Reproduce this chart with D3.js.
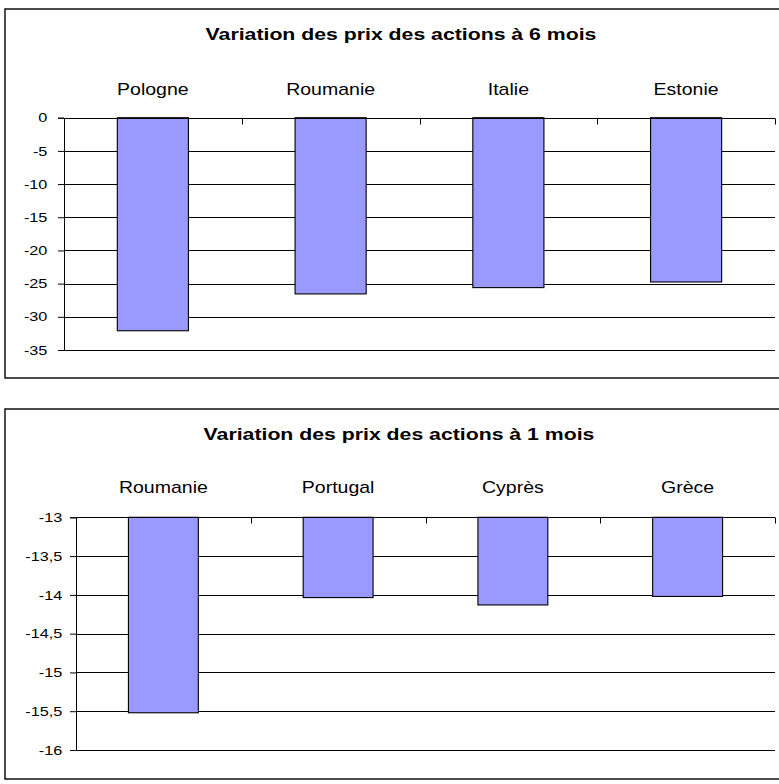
<!DOCTYPE html>
<html>
<head>
<meta charset="utf-8">
<script src="https://cdn.jsdelivr.net/npm/d3@7"></script>
<style>
  html, body { margin: 0; padding: 0; background: #fff; }
  svg { display: block; }
  text { font-family: "Liberation Sans", Arial, sans-serif; fill: #000; }
</style>
</head>
<body>
<svg id="chart" width="779" height="784"></svg>
<script>
// Six-month price changes (%)
const sixMonthTitle = "Variation des prix des actions à 6 mois";
const sixMonthCountries = ["Pologne", "Roumanie", "Italie", "Estonie"];
const sixMonthValues = [-32.1, -26.55, -25.6, -24.75];
const sixMonthTicks = [0, -5, -10, -15, -20, -25, -30, -35];

// One-month price changes (%)
const oneMonthTitle = "Variation des prix des actions à 1 mois";
const oneMonthCountries = ["Roumanie", "Portugal", "Cyprès", "Grèce"];
const oneMonthValues = [-15.52, -14.035, -14.13, -14.02];
const oneMonthTicks = [-13, -13.5, -14, -14.5, -15, -15.5, -16];

const svg = d3.select("#chart");
const frFormat = v => String(v).replace(".", ",");
const STRETCH = 1.25; // wide lettering

function drawPanel(cfg) {
  const g = svg.append("g");

  // outer frame (right edge runs past the page)
  g.append("rect")
    .attr("x", cfg.frame.x).attr("y", cfg.frame.y)
    .attr("width", cfg.frame.w).attr("height", cfg.frame.h)
    .attr("fill", "#fff").attr("stroke", "#000").attr("stroke-width", 1.4);

  g.append("text")
    .attr("transform", `translate(${cfg.titleX},${cfg.titleY}) scale(${STRETCH},1)`)
    .attr("text-anchor", "middle")
    .attr("font-size", 17).attr("font-weight", "bold")
    .text(cfg.title);

  const x = d3.scaleBand()
    .domain(cfg.categories)
    .range([cfg.plot.x0, cfg.plot.x1])
    .paddingInner(0.6).paddingOuter(0.3);

  const y = d3.scaleLinear()
    .domain([cfg.ticks[0], cfg.ticks[cfg.ticks.length - 1]])
    .range([cfg.plot.y0, cfg.plot.y1]);

  // horizontal gridlines
  g.append("g").selectAll("line")
    .data(cfg.ticks.slice(1))
    .join("line")
    .attr("x1", cfg.plot.x0).attr("x2", cfg.plot.x1)
    .attr("y1", d => Math.round(y(d)) + 0.5).attr("y2", d => Math.round(y(d)) + 0.5)
    .attr("stroke", "#000").attr("stroke-width", 1.1);

  // value axis
  const yAxis = d3.axisLeft(y)
    .tickValues(cfg.ticks)
    .tickFormat(frFormat)
    .tickSize(6).tickPadding(cfg.tickPad);
  const ya = g.append("g")
    .attr("transform", `translate(${cfg.plot.x0},0)`)
    .call(yAxis);
  ya.select(".domain").attr("stroke", "#000");
  ya.selectAll(".tick line").attr("stroke", "#000");
  ya.selectAll(".tick text")
    .attr("font-family", "Liberation Sans, Arial, sans-serif")
    .attr("font-size", 13).attr("fill", "#000")
    .attr("transform", `scale(${STRETCH},1)`);

  // bars hanging from the top axis
  g.append("g").selectAll("rect")
    .data(cfg.categories.map((c, i) => ({ c, v: cfg.values[i] })))
    .join("rect")
    .attr("x", d => x(d.c))
    .attr("width", x.bandwidth())
    .attr("y", y(cfg.ticks[0]))
    .attr("height", d => y(d.v) - y(cfg.ticks[0]))
    .attr("fill", "#9999ff")
    .attr("stroke", "#000").attr("stroke-width", 1.1);

  // category axis along the top
  const topY = Math.round(y(cfg.ticks[0])) + 0.5;
  g.append("line")
    .attr("x1", cfg.plot.x0).attr("x2", cfg.plot.x1)
    .attr("y1", topY).attr("y2", topY)
    .attr("stroke", "#000");
  const bounds = d3.range(cfg.categories.length + 1).map(i => cfg.plot.x0 + i * x.step());
  g.append("g").selectAll("line")
    .data(bounds.slice(1))
    .join("line")
    .attr("x1", d => Math.round(d) + 0.5).attr("x2", d => Math.round(d) + 0.5)
    .attr("y1", topY).attr("y2", topY + 6)
    .attr("stroke", "#000");

  g.append("g").selectAll("text")
    .data(cfg.categories)
    .join("text")
    .attr("transform", d => `translate(${x(d) + x.bandwidth() / 2},${cfg.labelY}) scale(1.22,1)`)
    .attr("text-anchor", "middle")
    .attr("font-size", 16)
    .text(d => d);
}

drawPanel({
  title: sixMonthTitle, categories: sixMonthCountries, values: sixMonthValues, ticks: sixMonthTicks,
  frame: { x: 5, y: 9, w: 790, h: 369 },
  plot: { x0: 64, x1: 775, y0: 117.7, y1: 350 },
  titleX: 401, titleY: 40, labelY: 95, tickPad: 7.3
});

drawPanel({
  title: oneMonthTitle, categories: oneMonthCountries, values: oneMonthValues, ticks: oneMonthTicks,
  frame: { x: 5, y: 409, w: 790, h: 370 },
  plot: { x0: 76, x1: 775, y0: 517.3, y1: 750 },
  titleX: 399, titleY: 440, labelY: 493, tickPad: 5
});
</script>
</body>
</html>
